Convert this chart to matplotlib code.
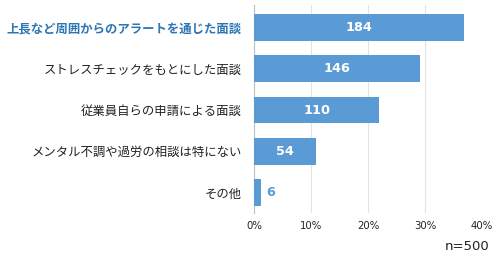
import matplotlib
matplotlib.use("Agg")
import matplotlib.pyplot as plt

plt.rcParams['font.family'] = ['Noto Sans CJK JP', 'DejaVu Sans']

categories = ["上長など周囲からのアラートを通じた面談",
              "ストレスチェックをもとにした面談",
              "従業員自らの申請による面談",
              "メンタル不調や過労の相談は特にない",
              "その他"]
counts = [184, 146, 110, 54, 6]
total = 500
xticks = [0, 10, 20, 30, 40]
xticklabels = ["0%", "10%", "20%", "30%", "40%"]

bar_color = "#5B9BD5"
hl_color = "#2E75B6"

fig = plt.figure(figsize=(5, 2.64), dpi=100)
ax = fig.add_axes([0.508, 0.193, 0.456, 0.788])

pcts = [c / total * 100 for c in counts]
ypos = list(range(len(categories)))
ax.barh(ypos, pcts, height=0.65, color=bar_color, zorder=3)

for y, p, c in zip(ypos, pcts, counts):
    if p > 5:
        ax.text(p / 2, y, str(c), ha='center', va='center', color='white',
                fontsize=9.3, fontweight='bold', family='DejaVu Sans', zorder=4)
    else:
        ax.text(p + 0.9, y, str(c), ha='left', va='center', color=bar_color,
                fontsize=9.3, fontweight='bold', family='DejaVu Sans', zorder=4)

ax.set_xlim(0, 40)
ax.set_ylim(4.5, -0.55)
ax.set_xticks(xticks)
ax.set_xticklabels(xticklabels, fontsize=7.3, family='DejaVu Sans', color='#222222')
ax.set_yticks(ypos)
ax.set_yticklabels(categories, fontsize=8.9)
for i, lbl in enumerate(ax.get_yticklabels()):
    if i == 0:
        lbl.set_color(hl_color)
        lbl.set_fontweight('bold')
    else:
        lbl.set_color('#222222')
ax.tick_params(axis='y', length=0, pad=9)
ax.tick_params(axis='x', length=0, pad=5.5)

ax.grid(axis='x', color='#E3E3E3', linewidth=0.8, zorder=0)
for s in ['top', 'right', 'bottom']:
    ax.spines[s].set_visible(False)
ax.spines['left'].set_color('#BFBFBF')
ax.spines['left'].set_linewidth(0.8)

fig.text(0.98, 0.065, "n=500", ha='right', va='center', fontsize=9.5,
         family='DejaVu Sans', color='#222222')

fig.savefig("out.png", dpi=100)
